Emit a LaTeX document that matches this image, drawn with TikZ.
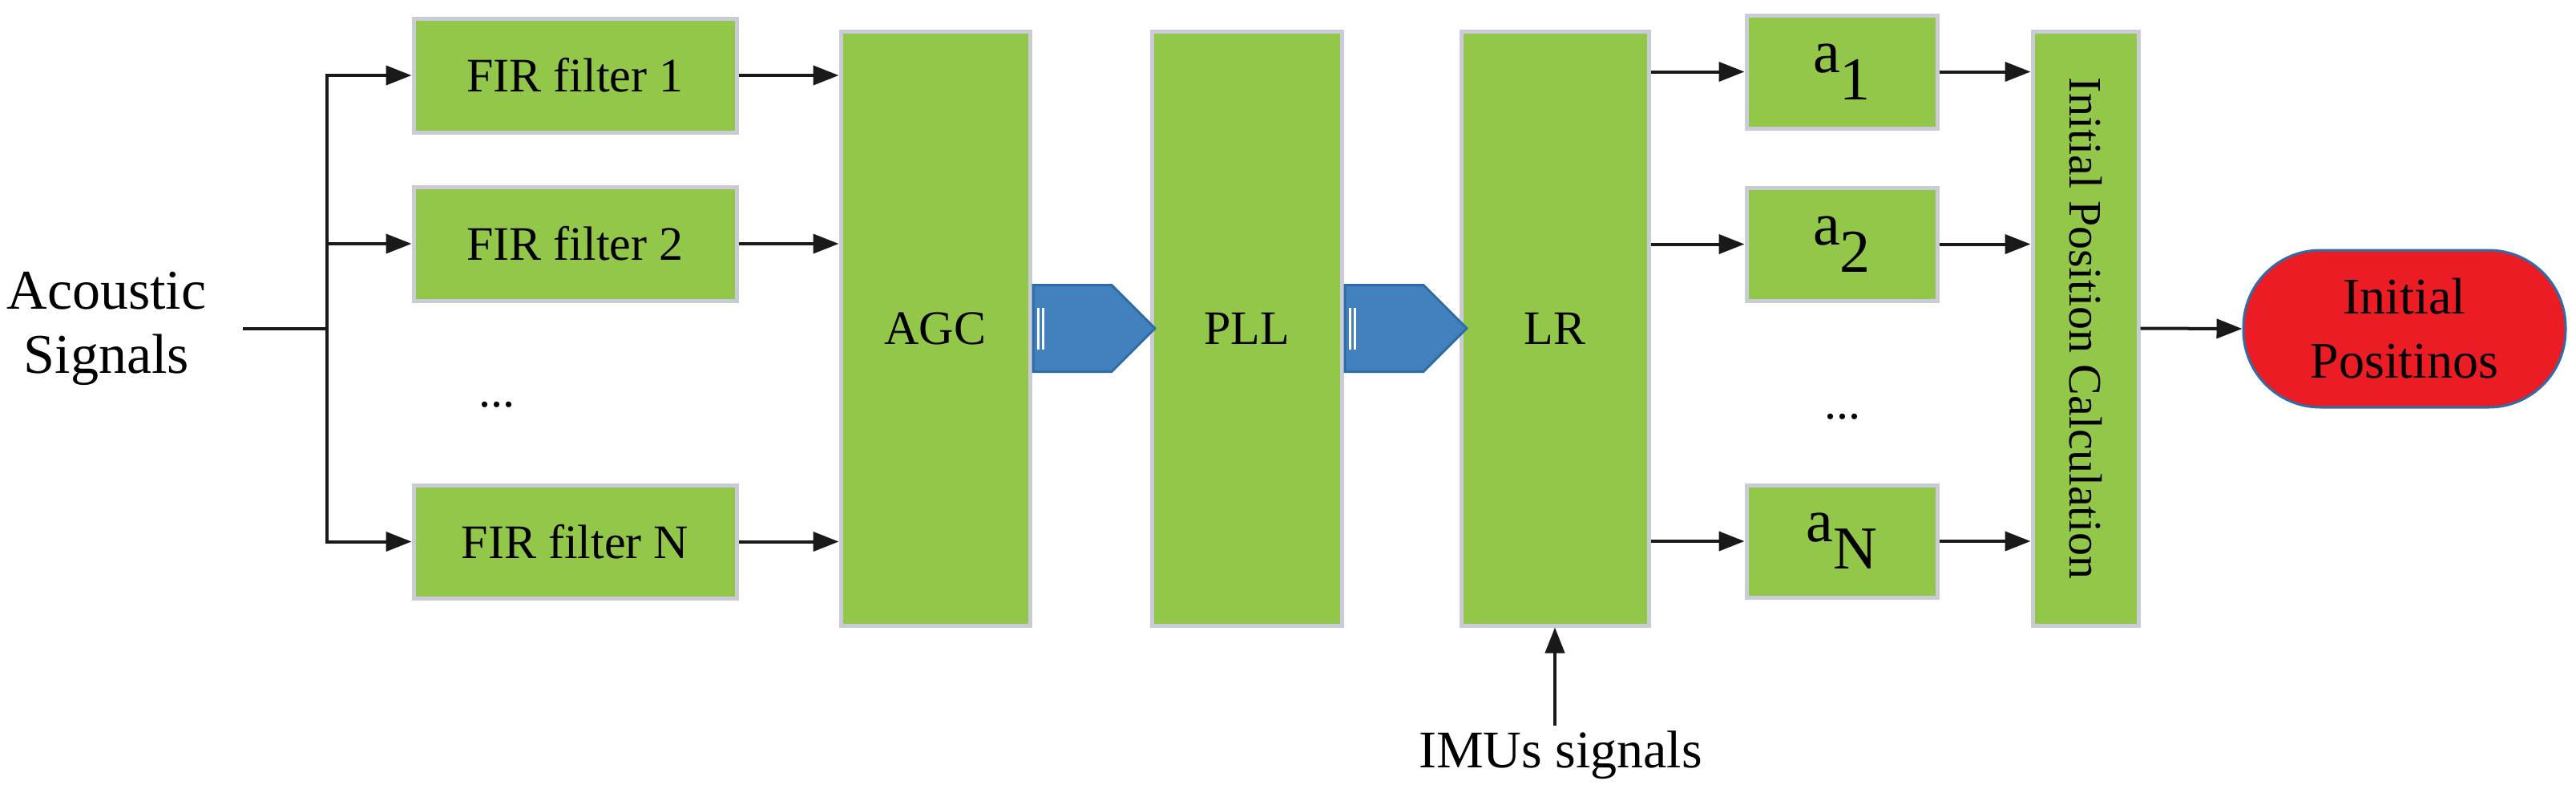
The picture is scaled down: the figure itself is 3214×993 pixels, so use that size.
\documentclass[tikz,border=0pt]{standalone}
\usepackage{fontspec}
\setmainfont{Liberation Serif}
\usetikzlibrary{arrows.meta,shapes.arrows}
\definecolor{gr}{HTML}{92C74A}
\definecolor{bd}{HTML}{C9CCD6}
\definecolor{rd}{HTML}{EC1C24}
\definecolor{bl}{HTML}{4281BE}
\definecolor{bld}{HTML}{2E6DA8}
\begin{document}
\begin{tikzpicture}[x=0.5pt,y=-0.5pt,
 box/.style={draw=bd,line width=2.5pt,fill=gr,inner sep=0pt,font=\fontsize{30}{36}\selectfont},
 ar/.style={-{Triangle[length=16pt,width=12pt]},line width=2pt,black!90},
 big/.style={draw=bld,line width=1.5pt,fill=bl,single arrow,single arrow head extend=0pt,inner sep=0pt,minimum height=76pt,minimum width=54pt,single arrow head indent=0pt}]
\useasboundingbox (0,0) rectangle (3214,993);
\newcommand{\bx}[5]{\node[box,minimum width=#4*0.5pt,minimum height=#5*0.5pt] (#1) at (#2,#3) {};}
\bx{f1}{717.5}{94}{403}{142}
\bx{f2}{717.5}{304}{403}{142}
\bx{fN}{717.5}{675.5}{403}{141}
\node[font=\fontsize{30}{36}\selectfont] at (f1) {FIR filter 1};
\node[font=\fontsize{30}{36}\selectfont] at (f2) {FIR filter 2};
\node[font=\fontsize{30}{36}\selectfont] at (fN) {FIR filter N};
\bx{agc}{1167}{409.5}{236}{741}
\node[font=\fontsize{30}{36}\selectfont] at (agc) {AGC};
\bx{pll}{1555.5}{409.5}{237}{741}
\node[font=\fontsize{30}{36}\selectfont] at (pll) {PLL};
\bx{lr}{1940}{409.5}{234}{741}
\node[font=\fontsize{30}{36}\selectfont] at (lr) {LR};
\bx{a1}{2298}{89.5}{238}{141}
\bx{a2}{2298}{304.5}{238}{141}
\bx{aN}{2298}{675}{238}{140}
\node[font=\fontsize{38}{40}\selectfont] at (a1) {a\raisebox{-0.45em}{1}};
\node[font=\fontsize{38}{40}\selectfont] at (a2) {a\raisebox{-0.45em}{2}};
\node[font=\fontsize{38}{40}\selectfont] at (aN) {a\raisebox{-0.45em}{N}};
\bx{ipc}{2602}{409.5}{132}{741}
\node[rotate=-90,font=\fontsize{29}{32}\selectfont] at (ipc) {Initial Position Calculation};
\node[draw=bld,line width=1.5pt,fill=rd,rounded corners=48pt,minimum width=201pt,minimum height=98pt,align=center,font=\fontsize{32}{40}\selectfont] (ip) at (3000,410) {Initial\\Positinos};
\node[align=center,font=\fontsize{35}{40}\selectfont] (ac) at (133,410) {Acoustic\\Signals};
\node[font=\fontsize{30}{36}\selectfont] (d1) at (620,505) {...};
\node[font=\fontsize{30}{36}\selectfont] (d2) at (2299,520) {...};
\node[font=\fontsize{33}{36}\selectfont] (imu) at (1947,942) {IMUs signals};
\coordinate (s) at (303,410);
\coordinate (bus) at (408,410);
\draw[line width=2pt,black!90] (s) -- (bus);
\draw[ar] (bus) |- (f1.west);
\draw[ar] (bus) |- (f2.west);
\draw[ar] (bus) |- (fN.west);
\foreach \f in {f1,f2,fN} \draw[ar] (\f.east) -- (\f.east -| agc.west);
\foreach \f in {a1,a2,aN} {\draw[ar] (\f.west -| lr.east) -- (\f.west); \draw[ar] (\f.east) -- (\f.east -| ipc.west);}
\draw[ar] (ipc.east) -- (ip.west);
\draw[ar] (imu.north -| lr.south) -- (lr.south);
\node[big,anchor=tail] (b1) at (agc.east) {};
\node[big,anchor=tail] (b2) at (pll.east) {};
\foreach \b in {b1,b2} {\draw[white,line width=1.2pt] ([xshift=4pt]\b.tail) ++(0,-13pt) -- ++(0,26pt); \draw[white,line width=1.2pt] ([xshift=7pt]\b.tail) ++(0,-13pt) -- ++(0,26pt);}
\end{tikzpicture}
\end{document}
